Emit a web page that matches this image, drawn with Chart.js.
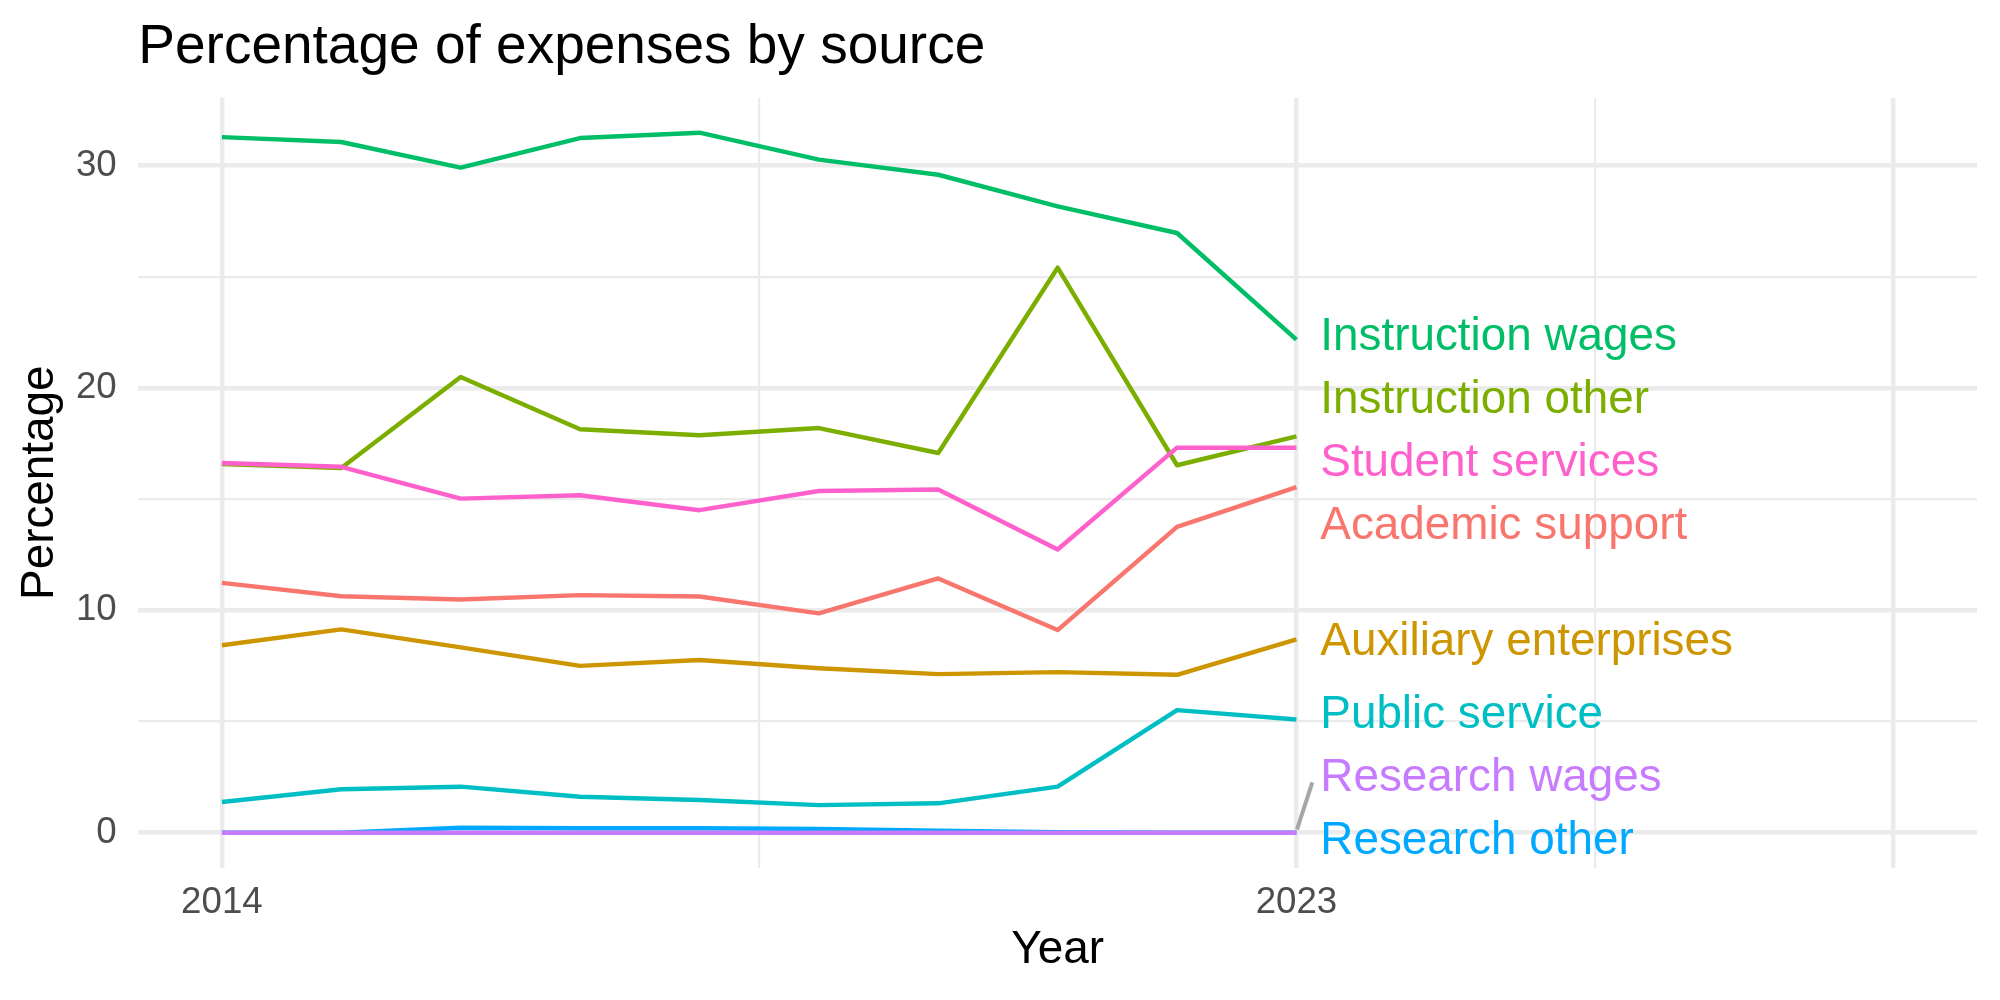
<!DOCTYPE html>
<html>
<head>
<meta charset="utf-8">
<script src="https://cdn.jsdelivr.net/npm/chart.js@4.4.1/dist/chart.umd.min.js"></script>
<style>
  html, body { margin: 0; padding: 0; background: #ffffff; }
  canvas { display: block; }
</style>
</head>
<body>
<canvas id="c" width="2000" height="1000" style="width:2000px;height:1000px"></canvas>
<script>
// ---------------- data ----------------
const years = [2014, 2015, 2016, 2017, 2018, 2019, 2020, 2021, 2022, 2023];

const seriesNames = [
  'Academic support', 'Auxiliary enterprises', 'Instruction other', 'Instruction wages',
  'Public service', 'Research other', 'Research wages', 'Student services'
];

const academicSupport      = [11.23, 10.63, 10.48, 10.68, 10.62, 9.86, 11.43, 9.11, 13.75, 15.54];
const auxiliaryEnterprises = [8.43, 9.14, 8.33, 7.50, 7.76, 7.39, 7.13, 7.22, 7.10, 8.69];
const instructionOther     = [16.58, 16.40, 20.49, 18.14, 17.87, 18.19, 17.07, 25.40, 16.52, 17.82];
const instructionWages     = [31.27, 31.05, 29.90, 31.23, 31.47, 30.26, 29.58, 28.16, 26.96, 22.17];
const publicService        = [1.38, 1.95, 2.07, 1.62, 1.47, 1.24, 1.32, 2.07, 5.51, 5.09];
const researchOther        = [0.00, 0.00, 0.22, 0.20, 0.20, 0.17, 0.09, 0.02, 0.00, 0.00];
const researchWages        = [0.00, 0.00, 0.00, 0.00, 0.00, 0.00, 0.00, 0.00, 0.00, 0.00];
const studentServices      = [16.62, 16.45, 15.02, 15.17, 14.50, 15.36, 15.43, 12.73, 17.31, 17.31];

const seriesValues = [
  academicSupport, auxiliaryEnterprises, instructionOther, instructionWages,
  publicService, researchOther, researchWages, studentServices
];

const seriesColors = ['#F8766D', '#CD9600', '#7CAE00', '#00BE67', '#00BFC4', '#00A9FF', '#C77CFF', '#FF61CC'];

// repelled end-label positions (data units) and the year they start at
const labelPositions = [13.95, 8.73, 19.60, 22.44, 5.46, -0.23, 2.62, 16.79];
const labelYear = 2023.2;

// axes
const xLimits = [2014, 2028];
const xMajorBreaks = [2014, 2023, 2028];
const xBreakLabels = ['2014', '2023', ''];
const xMinorBreaks = [2018.5, 2025.5];
const yMajorBreaks = [0, 10, 20, 30];
const yBreakLabels = ['0', '10', '20', '30'];
const yMinorBreaks = [5, 15, 25];

const titleText = 'Percentage of expenses by source';
const xTitleText = 'Year';
const yTitleText = 'Percentage';

// ---------------- chart ----------------
const FONT = "'Liberation Sans', Arial, Helvetica, sans-serif";
Chart.defaults.font.family = FONT;

const allVals = seriesValues.flat();
const yDataMin = Math.min(...allVals), yDataMax = Math.max(...allVals);
const yExp = (yDataMax - yDataMin) * 0.05;
const xExp = (xLimits[1] - xLimits[0]) * 0.05;

const MAJOR_W = 4.45, MINOR_W = 2.2, LINE_W = 4.45;
const GRID_COL = '#EBEBEB';

const datasets = seriesNames.map((name, i) => ({
  label: name,
  data: years.map((yr, j) => ({ x: yr, y: seriesValues[i][j] })),
  borderColor: seriesColors[i],
  backgroundColor: seriesColors[i],
  borderWidth: LINE_W,
  pointRadius: 0,
  pointHoverRadius: 0,
  tension: 0,
  fill: false,
  borderCapStyle: 'butt',
  borderJoinStyle: 'round',
  order: seriesNames.length - 1 - i
}));

const decor = {
  id: 'decor',
  afterDatasetsDraw(chart) {
    const ctx = chart.ctx;
    const xs = chart.scales.x, ys = chart.scales.y;
    const area = chart.chartArea;
    ctx.save();
    // title
    ctx.fillStyle = '#000000';
    ctx.font = `55px ${FONT}`;
    ctx.textAlign = 'left';
    ctx.textBaseline = 'alphabetic';
    ctx.fillText(titleText, area.left, 63.3);

    const labelSize = 45.83;
    const capHalf = labelSize * 0.716 / 2;
    const lx = xs.getPixelForValue(labelYear);
    // connector segments for labels pushed far from their line end
    seriesNames.forEach((name, i) => {
      const endV = seriesValues[i][seriesValues[i].length - 1];
      if (Math.abs(labelPositions[i] - endV) > 2) {
        const px = xs.getPixelForValue(years[years.length - 1]);
        const py = ys.getPixelForValue(endV);
        const ly = ys.getPixelForValue(labelPositions[i]);
        ctx.strokeStyle = '#A6A6A6';
        ctx.lineWidth = 4;
        ctx.lineCap = 'butt';
        ctx.beginPath();
        ctx.moveTo(px + 0.5, py - 3);
        ctx.lineTo(lx - 8, ly + 8);
        ctx.stroke();
      }
    });
    // end labels
    ctx.font = `${labelSize}px ${FONT}`;
    seriesNames.forEach((name, i) => {
      ctx.fillStyle = seriesColors[i];
      ctx.fillText(name, lx, ys.getPixelForValue(labelPositions[i]) + capHalf);
    });
    ctx.restore();
  }
};

new Chart(document.getElementById('c'), {
  type: 'line',
  data: { datasets },
  plugins: [decor],
  options: {
    responsive: false,
    devicePixelRatio: 1,
    animation: false,
    events: [],
    layout: { padding: { top: 97.7, right: 23, bottom: 0, left: 0 } },
    plugins: { legend: { display: false }, tooltip: { enabled: false }, title: { display: false } },
    scales: {
      x: {
        type: 'linear',
        min: xLimits[0] - xExp,
        max: xLimits[1] + xExp,
        afterBuildTicks: s => { s.ticks = [...xMajorBreaks, ...xMinorBreaks].sort((a, b) => a - b).map(v => ({ value: v })); },
        afterFit: s => { s.height = 132.3; },
        ticks: {
          autoSkip: false, maxRotation: 0, minRotation: 0,
          padding: 13.6,
          color: '#4D4D4D',
          font: { size: 36.67 },
          callback: (v) => { const k = xMajorBreaks.indexOf(v); return k >= 0 ? xBreakLabels[k] : ''; }
        },
        grid: {
          color: GRID_COL,
          drawTicks: false,
          lineWidth: c => (c.tick && xMajorBreaks.includes(c.tick.value)) ? MAJOR_W : MINOR_W
        },
        border: { display: false },
        title: {
          display: true, text: xTitleText, color: '#000000',
          font: { size: 45.83, lineHeight: 1 },
          padding: { top: 0, bottom: 26.3 }
        }
      },
      y: {
        type: 'linear',
        min: yDataMin - yExp,
        max: yDataMax + yExp,
        afterBuildTicks: s => { s.ticks = [...yMajorBreaks, ...yMinorBreaks].sort((a, b) => a - b).map(v => ({ value: v })); },
        afterFit: s => { s.width = 138.3; },
        ticks: {
          autoSkip: false,
          padding: 21.6,
          color: '#4D4D4D',
          font: { size: 36.67 },
          callback: (v) => { const k = yMajorBreaks.indexOf(v); return k >= 0 ? yBreakLabels[k] : ''; }
        },
        grid: {
          color: GRID_COL,
          drawTicks: false,
          lineWidth: c => (c.tick && yMajorBreaks.includes(c.tick.value)) ? MAJOR_W : MINOR_W
        },
        border: { display: false },
        title: {
          display: true, text: yTitleText, color: '#000000',
          font: { size: 45.83, lineHeight: 1 },
          padding: { top: 17.9, bottom: 0 }
        }
      }
    }
  }
});
</script>
</body>
</html>
